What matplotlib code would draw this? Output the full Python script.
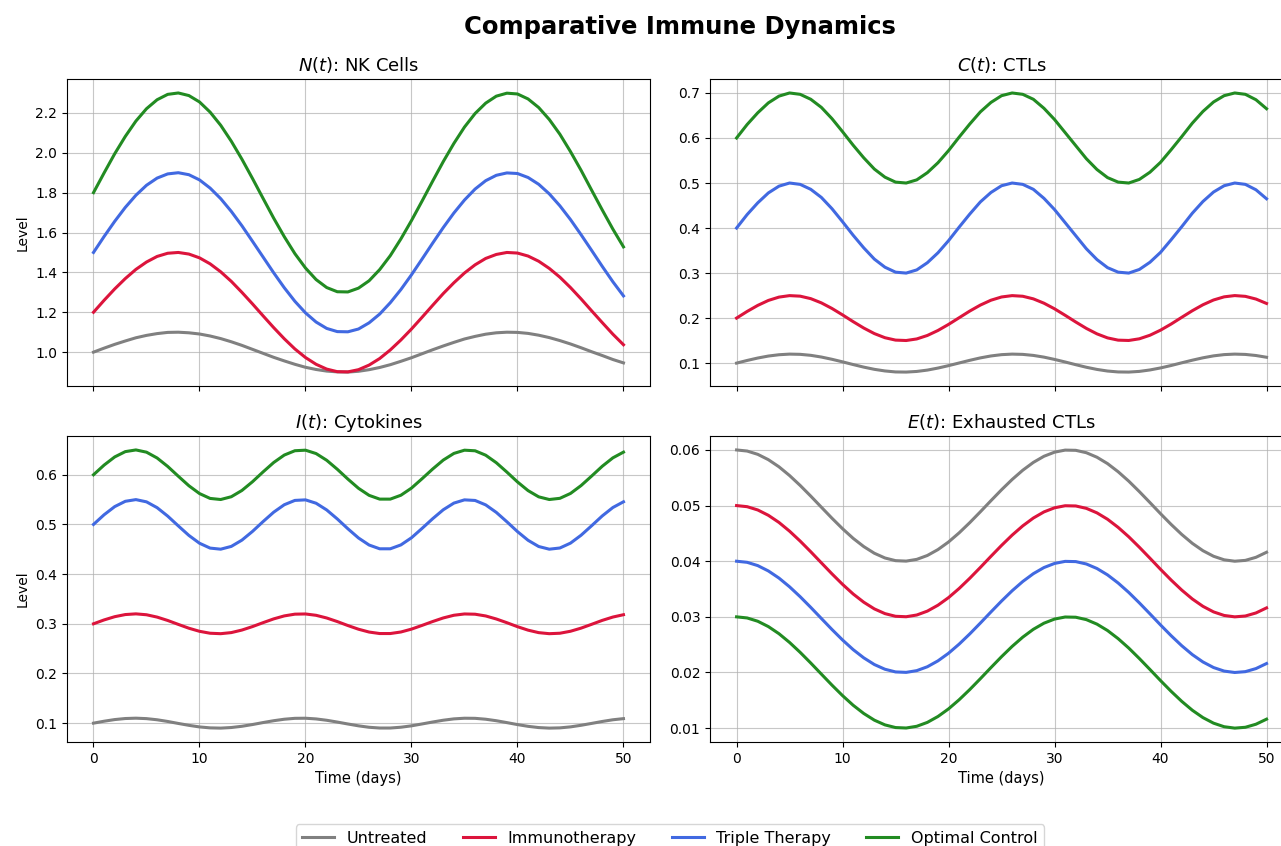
import matplotlib
matplotlib.use("Agg")
import matplotlib.pyplot as plt

# time grid (days)
days = list(range(51))

series_labels = ["Untreated", "Immunotherapy", "Triple Therapy", "Optimal Control"]
series_colors = ["gray", "crimson", "royalblue", "forestgreen"]

# N(t): NK cells
nk_untreated = [1.000, 1.020, 1.039, 1.056, 1.072, 1.084, 1.093, 1.099, 1.100, 1.097,
                1.091, 1.081, 1.068, 1.052, 1.034, 1.014, 0.994, 0.974, 0.956, 0.939,
                0.924, 0.913, 0.905, 0.901, 0.900, 0.904, 0.912, 0.923, 0.937, 0.954,
                0.972, 0.992, 1.012, 1.031, 1.049, 1.066, 1.079, 1.090, 1.097, 1.100,
                1.099, 1.094, 1.085, 1.073, 1.058, 1.041, 1.022, 1.002, 0.983, 0.963,
                0.946]
nk_immuno = [1.200, 1.260, 1.317, 1.369, 1.415, 1.452, 1.480, 1.496, 1.500, 1.492,
             1.473, 1.443, 1.403, 1.355, 1.300, 1.242, 1.182, 1.123, 1.067, 1.016,
             0.973, 0.939, 0.915, 0.902, 0.901, 0.912, 0.935, 0.968, 1.011, 1.061,
             1.116, 1.175, 1.235, 1.294, 1.348, 1.397, 1.438, 1.470, 1.490, 1.500,
             1.497, 1.482, 1.456, 1.420, 1.376, 1.324, 1.267, 1.207, 1.148, 1.090,
             1.037]
nk_triple = [1.500, 1.580, 1.656, 1.726, 1.787, 1.837, 1.873, 1.894, 1.900, 1.890,
             1.864, 1.823, 1.770, 1.706, 1.634, 1.556, 1.477, 1.398, 1.323, 1.255,
             1.197, 1.151, 1.119, 1.103, 1.102, 1.116, 1.147, 1.191, 1.248, 1.314,
             1.388, 1.467, 1.547, 1.625, 1.698, 1.763, 1.818, 1.860, 1.887, 1.899,
             1.896, 1.876, 1.842, 1.794, 1.734, 1.665, 1.589, 1.510, 1.430, 1.353,
             1.282]
nk_optimal = [1.800, 1.899, 1.995, 2.082, 2.159, 2.221, 2.266, 2.293, 2.300, 2.287,
              2.255, 2.204, 2.138, 2.058, 1.968, 1.871, 1.771, 1.672, 1.579, 1.494,
              1.422, 1.364, 1.324, 1.303, 1.302, 1.321, 1.358, 1.414, 1.484, 1.568,
              1.660, 1.758, 1.858, 1.956, 2.047, 2.129, 2.197, 2.249, 2.284, 2.299,
              2.295, 2.270, 2.227, 2.167, 2.093, 2.006, 1.912, 1.812, 1.713, 1.617,
              1.528]

# C(t): CTLs
ctl_untreated = [0.1000, 0.1059, 0.1113, 0.1157, 0.1186, 0.1200, 0.1195, 0.1173, 0.1135, 0.1085,
                 0.1028, 0.0968, 0.0911, 0.0862, 0.0826, 0.0804, 0.0801, 0.0815, 0.0845, 0.0890,
                 0.0944, 0.1003, 0.1062, 0.1116, 0.1159, 0.1188, 0.1200, 0.1194, 0.1171, 0.1133,
                 0.1082, 0.1025, 0.0965, 0.0908, 0.0860, 0.0824, 0.0804, 0.0801, 0.0816, 0.0848,
                 0.0893, 0.0947, 0.1007, 0.1065, 0.1118, 0.1161, 0.1189, 0.1200, 0.1193, 0.1169,
                 0.1130]
ctl_immuno = [0.2000, 0.2148, 0.2282, 0.2392, 0.2466, 0.2499, 0.2487, 0.2432, 0.2338, 0.2214,
              0.2071, 0.1921, 0.1779, 0.1656, 0.1564, 0.1511, 0.1502, 0.1537, 0.1614, 0.1725,
              0.1860, 0.2008, 0.2156, 0.2289, 0.2397, 0.2469, 0.2499, 0.2485, 0.2427, 0.2331,
              0.2206, 0.2062, 0.1913, 0.1771, 0.1650, 0.1560, 0.1510, 0.1503, 0.1540, 0.1619,
              0.1732, 0.1868, 0.2017, 0.2164, 0.2296, 0.2402, 0.2472, 0.2500, 0.2483, 0.2423,
              0.2325]
ctl_triple = [0.400, 0.430, 0.456, 0.478, 0.493, 0.500, 0.497, 0.486, 0.468, 0.443,
              0.414, 0.384, 0.356, 0.331, 0.313, 0.302, 0.300, 0.307, 0.323, 0.345,
              0.372, 0.402, 0.431, 0.458, 0.479, 0.494, 0.500, 0.497, 0.486, 0.466,
              0.441, 0.412, 0.383, 0.354, 0.330, 0.312, 0.302, 0.300, 0.308, 0.324,
              0.346, 0.374, 0.403, 0.433, 0.459, 0.480, 0.494, 0.500, 0.497, 0.485,
              0.465]
ctl_optimal = [0.600, 0.630, 0.656, 0.678, 0.693, 0.700, 0.697, 0.686, 0.668, 0.643,
               0.614, 0.584, 0.556, 0.531, 0.513, 0.502, 0.500, 0.507, 0.523, 0.545,
               0.572, 0.602, 0.631, 0.658, 0.679, 0.694, 0.700, 0.697, 0.686, 0.666,
               0.641, 0.612, 0.583, 0.554, 0.530, 0.512, 0.502, 0.500, 0.508, 0.524,
               0.546, 0.574, 0.603, 0.633, 0.659, 0.680, 0.694, 0.700, 0.697, 0.685,
               0.665]

# I(t): cytokines
cyt_untreated = [0.1000, 0.1039, 0.1072, 0.1093, 0.1100, 0.1091, 0.1068, 0.1034, 0.0994, 0.0956,
                 0.0924, 0.0905, 0.0900, 0.0912, 0.0937, 0.0972, 0.1012, 0.1049, 0.1079, 0.1097,
                 0.1099, 0.1085, 0.1058, 0.1022, 0.0983, 0.0946, 0.0917, 0.0902, 0.0902, 0.0918,
                 0.0946, 0.0984, 0.1023, 0.1059, 0.1086, 0.1099, 0.1097, 0.1079, 0.1049, 0.1011,
                 0.0971, 0.0936, 0.0911, 0.0900, 0.0905, 0.0925, 0.0957, 0.0995, 0.1034, 0.1068,
                 0.1091]
cyt_immuno = [0.3000, 0.3078, 0.3143, 0.3186, 0.3200, 0.3182, 0.3135, 0.3067, 0.2988, 0.2911,
              0.2849, 0.2810, 0.2801, 0.2823, 0.2874, 0.2944, 0.3023, 0.3099, 0.3159, 0.3194,
              0.3198, 0.3171, 0.3117, 0.3045, 0.2965, 0.2891, 0.2834, 0.2804, 0.2804, 0.2835,
              0.2893, 0.2968, 0.3046, 0.3118, 0.3172, 0.3198, 0.3193, 0.3158, 0.3097, 0.3022,
              0.2942, 0.2872, 0.2822, 0.2801, 0.2810, 0.2850, 0.2913, 0.2990, 0.3069, 0.3136,
              0.3183]
cyt_triple = [0.5000, 0.5195, 0.5359, 0.5466, 0.5500, 0.5455, 0.5338, 0.5168, 0.4971, 0.4779,
              0.4622, 0.4524, 0.4502, 0.4558, 0.4684, 0.4860, 0.5058, 0.5247, 0.5397, 0.5484,
              0.5495, 0.5427, 0.5292, 0.5111, 0.4913, 0.4728, 0.4586, 0.4510, 0.4510, 0.4588,
              0.4732, 0.4921, 0.5116, 0.5296, 0.5430, 0.5495, 0.5483, 0.5394, 0.5243, 0.5054,
              0.4856, 0.4681, 0.4556, 0.4502, 0.4526, 0.4624, 0.4783, 0.4975, 0.5172, 0.5341,
              0.5456]
cyt_optimal = [0.6000, 0.6195, 0.6359, 0.6466, 0.6500, 0.6455, 0.6338, 0.6168, 0.5971, 0.5779,
               0.5622, 0.5524, 0.5502, 0.5558, 0.5684, 0.5860, 0.6058, 0.6247, 0.6397, 0.6484,
               0.6495, 0.6427, 0.6292, 0.6111, 0.5913, 0.5728, 0.5586, 0.5510, 0.5510, 0.5588,
               0.5732, 0.5921, 0.6116, 0.6296, 0.6430, 0.6495, 0.6483, 0.6394, 0.6243, 0.6054,
               0.5856, 0.5681, 0.5556, 0.5502, 0.5526, 0.5624, 0.5783, 0.5975, 0.6172, 0.6341,
               0.6456]

# E(t): exhausted CTLs
exh_untreated = [0.06000, 0.05980, 0.05921, 0.05825, 0.05697, 0.05540, 0.05362, 0.05170, 0.04971, 0.04773,
                 0.04584, 0.04411, 0.04263, 0.04143, 0.04058, 0.04010, 0.04002, 0.04033, 0.04103, 0.04209,
                 0.04346, 0.04510, 0.04693, 0.04888, 0.05088, 0.05284, 0.05469, 0.05635, 0.05776, 0.05886,
                 0.05960, 0.05997, 0.05993, 0.05950, 0.05869, 0.05754, 0.05608, 0.05439, 0.05251, 0.05054,
                 0.04854, 0.04661, 0.04481, 0.04321, 0.04189, 0.04089, 0.04025, 0.04000, 0.04015, 0.04070,
                 0.04161]
exh_immuno = [0.05000, 0.04980, 0.04921, 0.04825, 0.04697, 0.04540, 0.04362, 0.04170, 0.03971, 0.03773,
              0.03584, 0.03411, 0.03263, 0.03143, 0.03058, 0.03010, 0.03002, 0.03033, 0.03103, 0.03209,
              0.03346, 0.03510, 0.03693, 0.03888, 0.04088, 0.04284, 0.04469, 0.04635, 0.04776, 0.04886,
              0.04960, 0.04997, 0.04993, 0.04950, 0.04869, 0.04754, 0.04608, 0.04439, 0.04251, 0.04054,
              0.03854, 0.03661, 0.03481, 0.03321, 0.03189, 0.03089, 0.03025, 0.03000, 0.03015, 0.03070,
              0.03161]
exh_triple = [0.04000, 0.03980, 0.03921, 0.03825, 0.03697, 0.03540, 0.03362, 0.03170, 0.02971, 0.02773,
              0.02584, 0.02411, 0.02263, 0.02143, 0.02058, 0.02010, 0.02002, 0.02033, 0.02103, 0.02209,
              0.02346, 0.02510, 0.02693, 0.02888, 0.03088, 0.03284, 0.03469, 0.03635, 0.03776, 0.03886,
              0.03960, 0.03997, 0.03993, 0.03950, 0.03869, 0.03754, 0.03608, 0.03439, 0.03251, 0.03054,
              0.02854, 0.02661, 0.02481, 0.02321, 0.02189, 0.02089, 0.02025, 0.02000, 0.02015, 0.02070,
              0.02161]
exh_optimal = [0.03000, 0.02980, 0.02921, 0.02825, 0.02697, 0.02540, 0.02362, 0.02170, 0.01971, 0.01773,
               0.01584, 0.01411, 0.01263, 0.01143, 0.01058, 0.01010, 0.01002, 0.01033, 0.01103, 0.01209,
               0.01346, 0.01510, 0.01693, 0.01888, 0.02088, 0.02284, 0.02469, 0.02635, 0.02776, 0.02886,
               0.02960, 0.02997, 0.02993, 0.02950, 0.02869, 0.02754, 0.02608, 0.02439, 0.02251, 0.02054,
               0.01854, 0.01661, 0.01481, 0.01321, 0.01189, 0.01089, 0.01025, 0.01000, 0.01015, 0.01070,
               0.01161]

panel_titles = [r"$N(t)$: NK Cells", r"$C(t)$: CTLs",
                r"$I(t)$: Cytokines", r"$E(t)$: Exhausted CTLs"]
panel_data = [
    [nk_untreated, nk_immuno, nk_triple, nk_optimal],
    [ctl_untreated, ctl_immuno, ctl_triple, ctl_optimal],
    [cyt_untreated, cyt_immuno, cyt_triple, cyt_optimal],
    [exh_untreated, exh_immuno, exh_triple, exh_optimal],
]

fig, axes = plt.subplots(2, 2, sharex=True, figsize=(12.81, 8.46), dpi=100)
axes = axes.flatten()

# axes boxes [left, bottom, width, height] in figure fraction
positions = [
    [0.0523, 0.5437, 0.4551, 0.3629],
    [0.5543, 0.5437, 0.4551, 0.3629],
    [0.0523, 0.1229, 0.4551, 0.3617],
    [0.5543, 0.1229, 0.4551, 0.3617],
]

for i, ax in enumerate(axes):
    ax.set_position(positions[i])
    for values, label, color in zip(panel_data[i], series_labels, series_colors):
        ax.plot(days, values, color=color, linewidth=2.2, label=label,
                solid_joinstyle="round")
    ax.set_title(panel_titles[i], fontsize=13)
    ax.grid(True, alpha=0.7)
    ax.tick_params(labelsize=10)
    if i % 2 == 0:
        ax.set_ylabel("Level", fontsize=10)
    if i >= 2:
        ax.set_xlabel("Time (days)", fontsize=10.5)
    ax.set_xticks([0, 10, 20, 30, 40, 50])

fig.suptitle("Comparative Immune Dynamics", fontsize=17.5, fontweight="bold",
             x=0.531, y=0.982)

handles, labels = axes[0].get_legend_handles_labels()
fig.legend(handles, labels, loc="upper center", bbox_to_anchor=(0.523, 0.035),
           ncol=4, fontsize=11.5, columnspacing=2.2)

plt.savefig("out.png", dpi=100)
plt.close()
